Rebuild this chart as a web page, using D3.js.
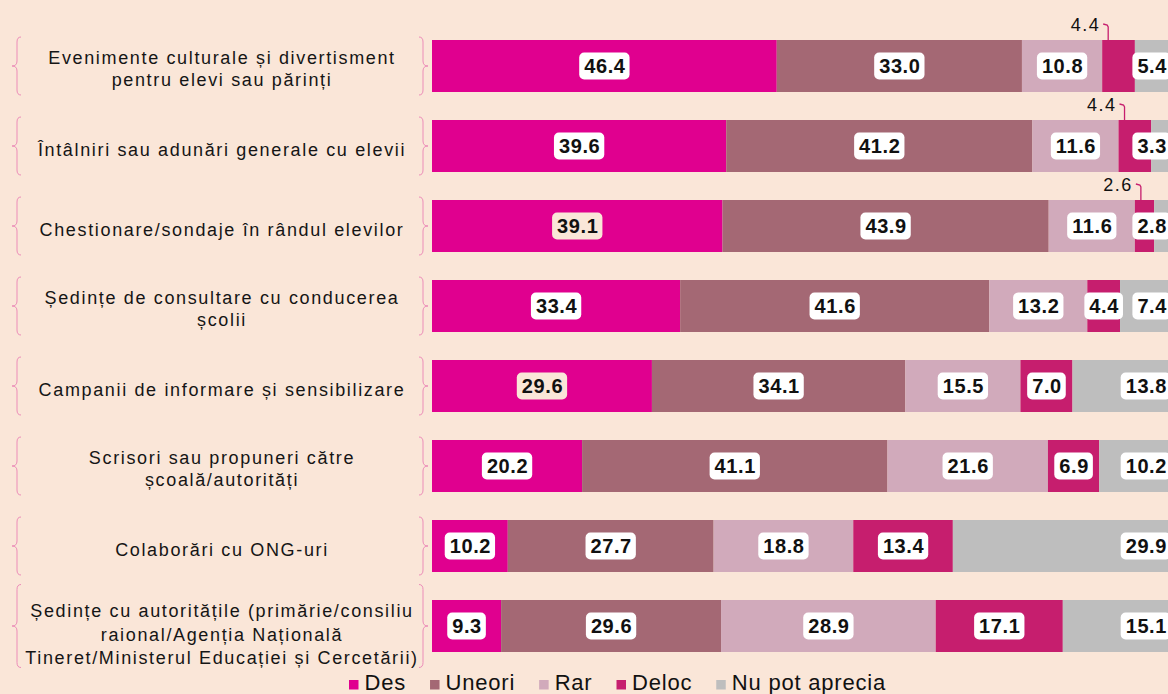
<!DOCTYPE html>
<html>
<head>
<meta charset="utf-8">
<script src="https://cdn.jsdelivr.net/npm/d3@7"></script>
<style>
  html, body { margin: 0; padding: 0; background: #fae6d8; overflow: hidden; }
  svg { display: block; font-family: "Liberation Sans", Arial, sans-serif; }
</style>
</head>
<body>
<div id="chart"></div>
<script>
// Chart data
var categories = [
  ["Evenimente culturale și divertisment", "pentru elevi sau părinți"],
  ["Întâlniri sau adunări generale cu elevii"],
  ["Chestionare/sondaje în rândul elevilor"],
  ["Ședințe de consultare cu conducerea", "școlii"],
  ["Campanii de informare și sensibilizare"],
  ["Scrisori sau propuneri către", "școală/autorități"],
  ["Colaborări cu ONG-uri"],
  ["Ședințe cu autoritățile (primărie/consiliu", "raional/Agenția Națională", "Tineret/Ministerul Educației și Cercetării)"]
];
var seriesNames = ["Des", "Uneori", "Rar", "Deloc", "Nu pot aprecia"];
var des    = [46.4, 39.6, 39.1, 33.4, 29.6, 20.2, 10.2, 9.3];
var uneori = [33.0, 41.2, 43.9, 41.6, 34.1, 41.1, 27.7, 29.6];
var rar    = [10.8, 11.6, 11.6, 13.2, 15.5, 21.6, 18.8, 28.9];
var deloc  = [4.4, 4.4, 2.6, 4.4, 7.0, 6.9, 13.4, 17.1];
var nupot  = [5.4, 3.3, 2.8, 7.4, 13.8, 10.2, 29.9, 15.1];

// Deloc values shown above the bar with a small leader line
var calloutRows = [0, 1, 2];

var colors = ["#e0008f", "#a46874", "#d1aabb", "#c61e6e", "#bebebe"];

var svgWidth = 1168;
var svgHeight = 694;

var svg = d3.select("#chart")
  .append("svg")
  .attr("width", svgWidth)
  .attr("height", svgHeight);

svg.append("rect")
  .attr("width", svgWidth)
  .attr("height", svgHeight)
  .attr("fill", "#fae6d8");

var rows = categories.map(function(c, i) {
  return { idx: i, lines: c, des: des[i], uneori: uneori[i], rar: rar[i], deloc: deloc[i], nupot: nupot[i] };
});
var keys = ["des", "uneori", "rar", "deloc", "nupot"];
var stacked = d3.stack().keys(keys)(rows);

var xScale = d3.scaleLinear()
  .domain([0, 100])
  .range([432, 1175]);

var yScale = d3.scaleBand()
  .domain(d3.range(categories.length))
  .range([26, 666])
  .paddingInner(0.35)
  .paddingOuter(0.175);

// Bars
var layers = svg.append("g").selectAll("g")
  .data(stacked)
  .enter()
  .append("g")
  .attr("fill", (d, i) => colors[i]);

layers.selectAll("rect")
  .data(d => d)
  .enter()
  .append("rect")
  .attr("x", d => xScale(d[0]))
  .attr("y", (d, i) => yScale(i))
  .attr("width", d => xScale(d[1]) - xScale(d[0]))
  .attr("height", yScale.bandwidth());

// Value labels
var labelGroup = svg.append("g");

function addLabel(x, yMid, txt, anchor, boxFill) {
  var g = labelGroup.append("g");
  var t = g.append("text")
    .attr("y", yMid + 7)
    .attr("font-size", "20px")
    .attr("font-weight", "bold")
    .attr("letter-spacing", "0.6px")
    .attr("fill", "#111")
    .text(txt);
  var w = t.node().getComputedTextLength() + 9;
  var left = anchor === "end" ? x - w : x - w / 2;
  t.attr("x", left + 5);
  g.insert("rect", "text")
    .attr("x", left)
    .attr("y", yMid - 13.5)
    .attr("width", w)
    .attr("height", 27)
    .attr("rx", 5)
    .attr("fill", boxFill);
}

stacked.forEach(function(layer, s) {
  layer.forEach(function(d, i) {
    var v = d.data[keys[s]];
    var yMid = yScale(i) + yScale.bandwidth() / 2;
    var txt = v.toFixed(1);
    if (s === 3 && calloutRows.indexOf(i) >= 0) {
      var top = yScale(i);
      var lx = xScale(d[0]) + 6;
      labelGroup.append("text")
        .attr("x", lx - 8)
        .attr("y", top - 9)
        .attr("text-anchor", "end")
        .attr("font-size", "18px")
        .attr("letter-spacing", "1.5px")
        .attr("fill", "#111")
        .text(txt);
      labelGroup.append("path")
        .attr("d", `M${lx - 5},${top - 16} L${lx - 1},${top - 15} L${lx},${top - 13} L${lx},${top}`)
        .attr("fill", "none")
        .attr("stroke", colors[3])
        .attr("stroke-width", 1.3);
    } else if (s === 4) {
      addLabel(xScale(100) - 4, yMid, txt, "end", "#ffffff");
    } else {
      var fill = (s === 0 && (i === 2 || i === 4)) ? "#fae6d8" : "#ffffff";
      addLabel((xScale(d[0]) + xScale(d[1])) / 2, yMid, txt, "middle", fill);
    }
  });
});

// Category labels and braces
var catGroup = svg.append("g");
var firstOffset = { 1: 10, 2: -2, 3: -9 };

rows.forEach(function(r, i) {
  var cy = yScale(i) + yScale.bandwidth() / 2;
  var n = r.lines.length;
  var gap = n === 3 ? 23.5 : 22;
  var text = catGroup.append("text")
    .attr("text-anchor", "middle")
    .attr("font-size", "18px")
    .attr("letter-spacing", "1.65px")
    .attr("fill", "#151515");
  r.lines.forEach(function(line, k) {
    text.append("tspan")
      .attr("x", 222)
      .attr("y", cy + firstOffset[n] + k * gap)
      .text(line);
  });

  var half = n === 3 ? 41.5 : 29;
  var t0 = cy - half, t1 = cy + half;
  // left brace
  catGroup.append("path")
    .attr("d", `M21,${t0} Q17,${t0} 17,${t0 + 5} L17,${cy - 5} Q17,${cy} 12,${cy} Q17,${cy} 17,${cy + 5} L17,${t1 - 5} Q17,${t1} 21,${t1}`)
    .attr("fill", "none")
    .attr("stroke", "#ec8cb8")
    .attr("stroke-width", 1);
  // right brace
  catGroup.append("path")
    .attr("d", `M419,${t0} Q423,${t0} 423,${t0 + 5} L423,${cy - 5} Q423,${cy} 428,${cy} Q423,${cy} 423,${cy + 5} L423,${t1 - 5} Q423,${t1} 419,${t1}`)
    .attr("fill", "none")
    .attr("stroke", "#ec8cb8")
    .attr("stroke-width", 1);
});

// Legend
var legend = svg.append("g");
var lx = 349;
seriesNames.forEach(function(name, i) {
  legend.append("rect")
    .attr("x", lx)
    .attr("y", 680)
    .attr("width", 9.5)
    .attr("height", 9.5)
    .attr("fill", colors[i]);
  var t = legend.append("text")
    .attr("x", lx + 15.5)
    .attr("y", 690)
    .attr("font-size", "22px")
    .attr("letter-spacing", "0.8px")
    .attr("fill", "#111")
    .text(name);
  lx += 15.5 + t.node().getComputedTextLength() + 24;
});
</script>
</body>
</html>
